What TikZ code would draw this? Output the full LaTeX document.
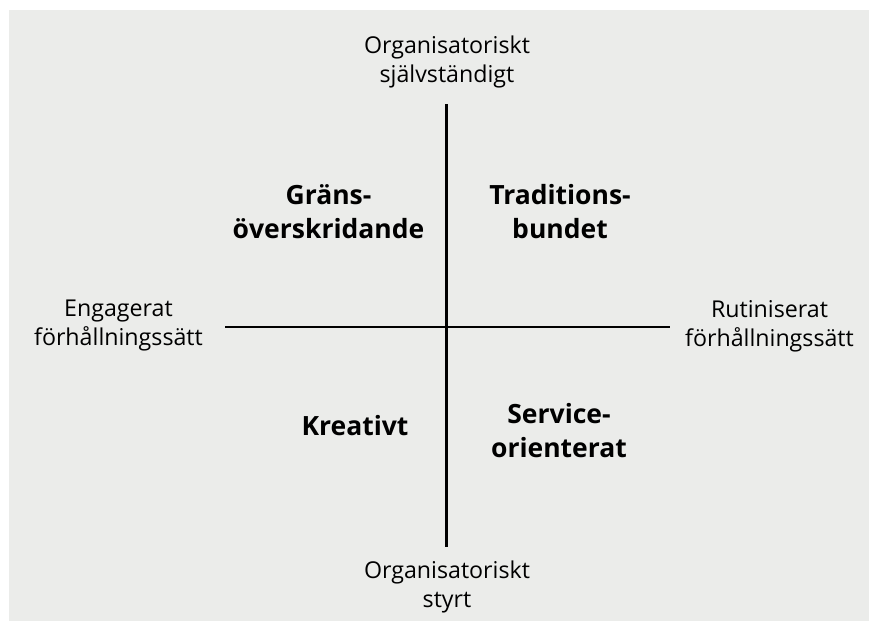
\documentclass[tikz,border=0pt]{standalone}
\usepackage{fontspec}
\setmainfont{Open Sans}
\definecolor{bggray}{RGB}{235,236,234}
\begin{document}
\begin{tikzpicture}[x=1pt,y=-1pt,
  axislabel/.style={anchor=base,align=center,inner sep=0pt,font=\fontsize{23.2}{28.5}\selectfont},
  quadlabel/.style={anchor=base,align=center,inner sep=0pt,font=\fontsize{26.5}{34}\selectfont\bfseries},
  axis/.style={line width=2.6pt,black}]
\useasboundingbox (0,0) rectangle (869,621);
\fill[bggray] (9,10) rectangle (869,621);
% axis end points
\coordinate (top) at (446.7,104);
\coordinate (bottom) at (446.7,547);
\coordinate (left) at (225,327);
\coordinate (right) at (670,327);
\draw[axis] (top) -- (bottom);
\draw[axis] (left) -- (right);
% axis labels (anchored at the baseline of the last line)
\node[axislabel] (ntop) at (447,82) {Organisatoriskt\\självständigt};
\node[axislabel] (nbottom) at (447,607) {Organisatoriskt\\styrt};
\node[axislabel] (nleft) at (118.5,345) {Engagerat\\förhållningssätt};
\node[axislabel] (nright) at (769.5,346) {Rutiniserat\\förhållningssätt};
% quadrant labels
\node[quadlabel] (q1) at (328.5,238) {Gräns-\\överskridande};
\node[quadlabel] (q2) at (560,238) {Traditions-\\bundet};
\node[quadlabel] (q3) at (355,435) {Kreativt};
\node[quadlabel] (q4) at (559,457) {Service-\\orienterat};
\end{tikzpicture}
\end{document}
